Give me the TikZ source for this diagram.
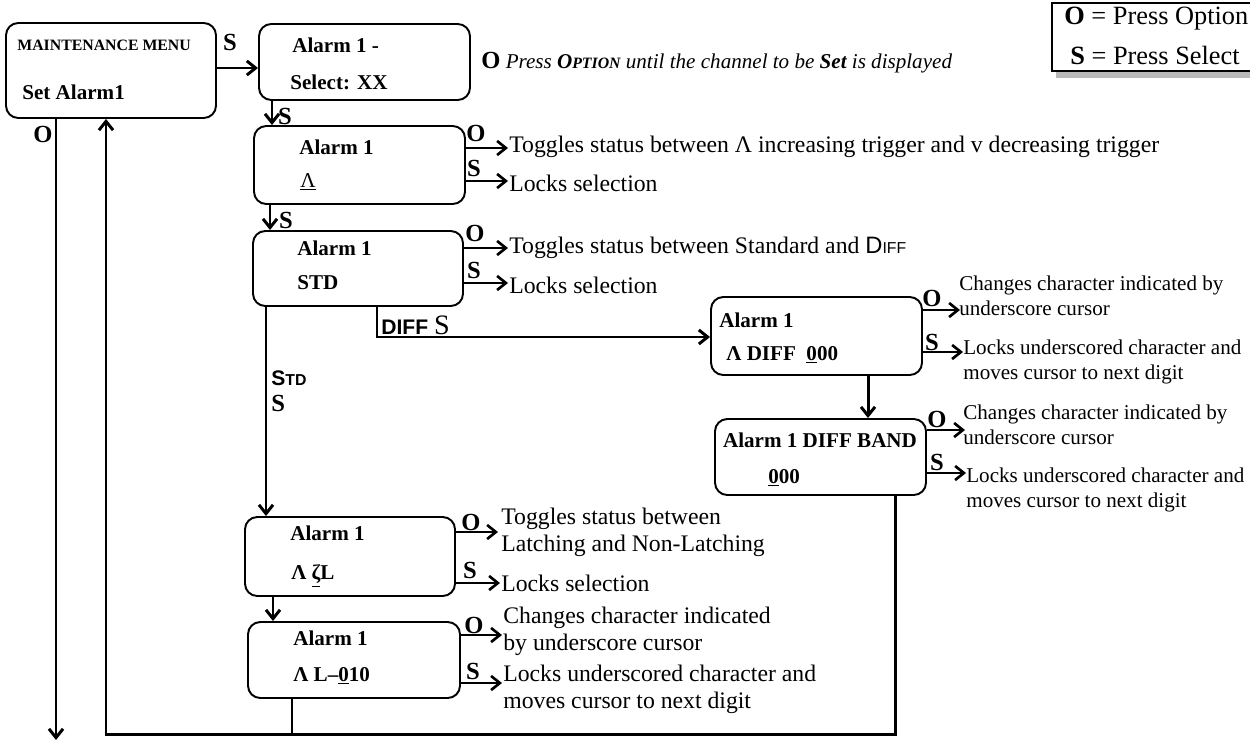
\documentclass[tikz,border=0pt]{standalone}
\usepackage{fontspec}
\setmainfont{Liberation Serif}
\setsansfont{Liberation Sans}
\usetikzlibrary{arrows.meta,positioning,fit}

\tikzset{
  screen/.style={rectangle,draw=black,line width=1.1pt,rounded corners=7pt,inner sep=0pt},
  flow/.style={line width=1.7pt,-{Straight Barb[length=5pt,width=8pt]}},
  key/.style={inner sep=0pt,font=\fontsize{14}{14}\selectfont\bfseries},
  disp/.style={anchor=west,inner sep=0pt,font=\fontsize{12}{14}\selectfont\bfseries},
  note/.style={anchor=west,inner sep=0pt,align=left,font=\fontsize{13.5}{15.5}\selectfont},
  smallnote/.style={note,font=\fontsize{12}{14.2}\selectfont},
}

\begin{document}
\begin{tikzpicture}[x=0.02cm,y=-0.02cm]
  \useasboundingbox (0,0) rectangle (1250,740);

  % legend
  \fill[gray!55] (1056,71) rectangle (1262,78);
  \node (legend) [draw=black,line width=0.6pt,fill=white,inner sep=0pt,fit={(1052,3) (1262,71)}] {};
  \node (legend-o) [anchor=west,inner sep=0pt,font=\fontsize{15}{15}\selectfont] at (1064,19) {\textbf{O} = Press Option};
  \node (legend-s) [anchor=west,inner sep=0pt,font=\fontsize{15}{15}\selectfont] at (1070,55) {\textbf{S} = Press Select};

  % screens
  \node (menu)  [screen,fit={(6,23) (216,118)}]   {};
  \node (chan)  [screen,fit={(259,24) (470,100)}] {};
  \node (trig)  [screen,fit={(254,126) (465,204)}] {};
  \node (mode)  [screen,fit={(253,231) (463,306)}] {};
  \node (diff)  [screen,fit={(711,297) (922,375)}] {};
  \node (band)  [screen,fit={(715,419) (926,495)}] {};
  \node (latch) [screen,fit={(245,517) (455,596)}] {};
  \node (level) [screen,fit={(248,622) (460,698)}] {};

  % screen texts
  \node (menu-a)  [disp,font=\fontsize{9}{9}\selectfont\bfseries] at (17,45) {MAINTENANCE MENU};
  \node (menu-b)  [disp] at (22,92)   {Set Alarm1};
  \node (chan-a)  [disp] at (292,45)  {Alarm 1 -};
  \node (chan-b)  [disp] at (290,82)  {Select: XX};
  \node (trig-a)  [disp] at (299,147) {Alarm 1};
  \node (trig-b)  [disp,font=\fontsize{12}{14}\selectfont] at (300,182) {\underline{Λ}};
  \node (mode-a)  [disp] at (297,248) {Alarm 1};
  \node (mode-b)  [disp] at (297,283) {STD};
  \node (diff-a)  [disp] at (719,320) {Alarm 1};
  \node (diff-b)  [disp] at (726,355) {Λ DIFF\ \ \underline{0}00};
  \node (band-a)  [disp,anchor=center] at (820,440) {Alarm 1 DIFF BAND};
  \node (band-b)  [disp] at (768,478) {\underline{0}00};
  \node (latch-a) [disp] at (290,533) {Alarm 1};
  \node (latch-b) [disp] at (291,576) {Λ \underline{ζ}L};
  \node (level-a) [disp] at (293,638) {Alarm 1};
  \node (level-b) [disp] at (293,676) {Λ L–\underline{0}10};

  % main flow
  \coordinate (menu-s) at (0,68);
  \coordinate (chan-s) at (272,0);
  \coordinate (trig-s) at (270,0);
  \coordinate (std-s)  at (266,0);
  \coordinate (diff-s) at (377,337);
  \coordinate (band-s) at (868,0);
  \coordinate (latch-s) at (273,0);
  \coordinate (back-r) at (895,734);
  \coordinate (back-l) at (106,734);
  \coordinate (level-s) at (292,734);
  \coordinate (exit)   at (56,740);

  \draw[flow] (menu.east |- menu-s) -- (chan.west |- menu-s);
  \draw[flow] (chan.south -| chan-s) -- (trig.north -| chan-s);
  \draw[flow] (trig.south -| trig-s) -- (mode.north -| trig-s);
  \draw[flow] (mode.south -| std-s) -- (latch.north -| std-s);
  \draw[flow] (mode.south -| diff-s) -- (diff-s) -- (diff.west |- diff-s);
  \draw[flow] (diff.south -| band-s) -- (band.north -| band-s);
  \draw[flow] (latch.south -| latch-s) -- (level.north -| latch-s);
  \draw[flow] (band.south -| back-r) -- (back-r) -- (back-l) -- (menu.south -| back-l);
  \draw[line width=1.2pt] (level.south -| level-s) -- (level-s);
  \draw[flow] (menu.south -| exit) -- (exit);

  \node (menu-sk) [key] at (230,42)  {S};
  \node (menu-ok) [key] at (43,134)  {O};
  \node (chan-sk) [key] at (285,116) {S};
  \node (trig-sk) [key] at (286,220) {S};
  \node (diff-sk) [anchor=west,inner sep=0pt] at (381,325)
    {\sffamily\bfseries\fontsize{12}{12}\selectfont DIFF {\rmfamily\mdseries\fontsize{16}{16}\selectfont S}};
  \node (std-sk)  [anchor=west,inner sep=0pt] at (271,378)
    {\sffamily\bfseries\fontsize{12}{12}\selectfont S\fontsize{9}{10}\selectfont TD};
  \node (std-sk2) [key,anchor=west] at (271,403) {S};

  % side actions
  \coordinate (trig-o)  at (508,148);
  \coordinate (trig-p)  at (508,181);
  \coordinate (mode-o)  at (508,248);
  \coordinate (mode-p)  at (508,283);
  \coordinate (diff-o)  at (960,310);
  \coordinate (diff-p)  at (963,352);
  \coordinate (band-o)  at (965,430);
  \coordinate (band-p)  at (966,473);
  \coordinate (latch-o) at (498,532);
  \coordinate (latch-p) at (500,583);
  \coordinate (level-o) at (502,635);
  \coordinate (level-p) at (502,683);

  \foreach \s in {trig,mode,diff,band,latch,level}
    \draw[flow,line width=1.5pt] (\s.east |- \s-o) -- (\s-o);
  \foreach \s in {trig,mode,diff,band,latch,level}
    \draw[flow,line width=1.5pt] (\s.east |- \s-p) -- (\s-p);

  \node (trig-ok)  [key] at (476,133) {O};
  \node (trig-pk)  [key] at (474,168) {S};
  \node (mode-ok)  [key] at (475,233) {O};
  \node (mode-pk)  [key] at (474,270) {S};
  \node (diff-ok)  [key] at (932,298) {O};
  \node (diff-pk)  [key] at (932,342) {S};
  \node (band-ok)  [key] at (937,419) {O};
  \node (band-pk)  [key] at (937,462) {S};
  \node (latch-ok) [key] at (471,522) {O};
  \node (latch-pk) [key] at (470,570) {S};
  \node (level-ok) [key] at (474,625) {O};
  \node (level-pk) [key] at (473,671) {S};

  \node (chan-on)  [note,font=\fontsize{12}{14}\selectfont] at (481,63)
    {{\bfseries\fontsize{14}{14}\selectfont O} \textit{Press \textbf{O\fontsize{9}{10}\selectfont PTION} until the channel to be \textbf{Set} is displayed}};
  \node (trig-on)  [note] at (509,147) {Toggles status between Λ increasing trigger and v decreasing trigger};
  \node (trig-pn)  [note] at (509,183) {Locks selection};
  \node (mode-on)  [note] at (509,248) {Toggles status between Standard and {\sffamily D\fontsize{9}{10}\selectfont IFF}};
  \node (mode-pn)  [note] at (509,285) {Locks selection};
  \node (diff-on)  [smallnote] at (959,296) {Changes character indicated by\\underscore cursor};
  \node (diff-pn)  [smallnote] at (963,362) {Locks underscored character and\\moves cursor to next digit};
  \node (band-on)  [smallnote] at (963,425) {Changes character indicated by\\underscore cursor};
  \node (band-pn)  [smallnote] at (966,490) {Locks underscored character and\\moves cursor to next digit};
  \node (latch-on) [note] at (501,532) {Toggles status between\\Latching and Non-Latching};
  \node (latch-pn) [note] at (501,583) {Locks selection};
  \node (level-on) [note] at (503,631) {Changes character indicated\\by underscore cursor};
  \node (level-pn) [note] at (503,689) {Locks underscored character and\\moves cursor to next digit};

\end{tikzpicture}
\end{document}
